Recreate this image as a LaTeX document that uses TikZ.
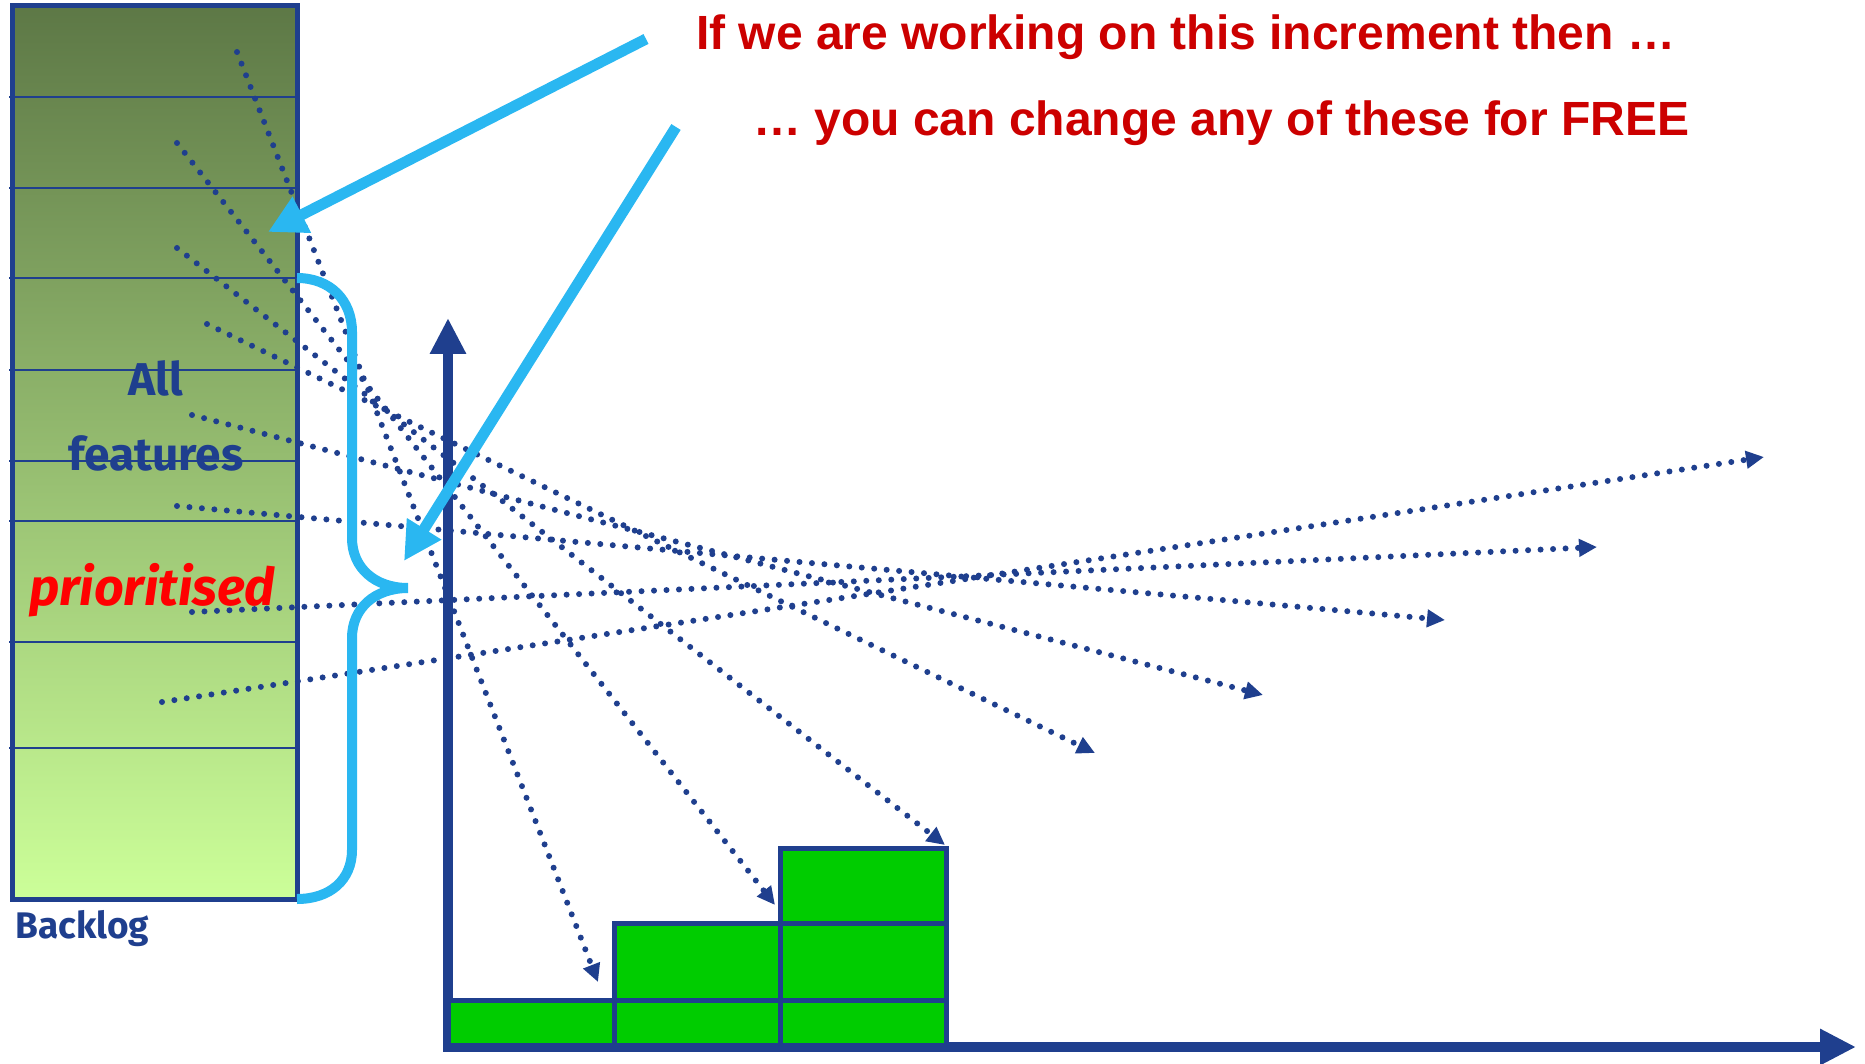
\documentclass[tikz,border=0pt]{standalone}
\usepackage{fontspec}
\setmainfont{Liberation Sans}
\newfontfamily\handfont{Fira Sans}
\usetikzlibrary{arrows.meta,positioning}

\begin{document}
\begin{tikzpicture}[x=1pt, y=-1pt]
    \definecolor{axisBlue}{HTML}{1F3F8E}
    \definecolor{braceCyan}{HTML}{2AB7F1}
    \definecolor{blockGreen}{HTML}{00CC00}
    \definecolor{topGreen}{HTML}{5D7846}
    \definecolor{bottomGreen}{HTML}{CCFF99}
    \definecolor{titleRed}{HTML}{CC0000}

    \tikzset{
        dotline/.style={axisBlue, line width=6pt, line cap=round, dash pattern=on 0pt off 12.5pt, -{Triangle[length=18pt,width=17pt]}},
        pointer/.style={braceCyan, line width=11pt, -{Triangle[length=38pt,width=38pt]}},
        block/.style={draw=axisBlue, fill=blockGreen, line width=5pt},
        axis/.style={axisBlue, line width=10pt, -{Triangle[length=36pt,width=34pt]}},
        hand/.style={font=\handfont\bfseries\fontsize{46}{46}\selectfont, text=axisBlue},
        title/.style={font=\bfseries\fontsize{48}{48}\selectfont, text=titleRed, anchor=west, inner sep=0pt}
    }

    \useasboundingbox (0,0) rectangle (1865,1064);

    % Backlog column
    \shade[top color=topGreen, bottom color=bottomGreen] (12,6) rectangle (297,899);
    \foreach \y in {97,188,278,370,461,521,642,748}
        \draw[axisBlue, line width=2.5pt] (9,\y) -- (297,\y);
    \draw[axisBlue, line width=5pt] (12,6) rectangle (297,899);

    % Labels in the column
    \node[hand] (all) at (156,378) {All};
    \node[hand] (feat) at (156,453) {features};
    \node[font=\handfont\bfseries\itshape\fontsize{52}{52}\selectfont, text=red] (prio) at (152,590) {prioritised};
    \node[hand, font=\handfont\bfseries\fontsize{37}{37}\selectfont, anchor=west, inner sep=0pt] (backlog) at (15,929) {Backlog};

    % Start and end points of the dotted arrows
    \coordinate (sA) at (237,52);   \coordinate (tA) at (598,982);
    \coordinate (sB) at (177,143);  \coordinate (tB) at (775,905);
    \coordinate (sC) at (177,248);  \coordinate (tC) at (945,845);
    \coordinate (sD) at (207,324);  \coordinate (tD) at (1095,753);
    \coordinate (sE) at (192,415);  \coordinate (tE) at (1263,695);
    \coordinate (sF) at (177,506);  \coordinate (tF) at (1445,620);
    \coordinate (sG) at (192,612);  \coordinate (tG) at (1597,547);
    \coordinate (sH) at (162,702);  \coordinate (tH) at (1764,457);

    % Axes
    \coordinate (origin) at (448,1047);
    \coordinate (yEnd) at (448,318);
    \coordinate (xEnd) at (1856,1047);
    \draw[axis] ([yshift=5pt]origin) -- (yEnd);
    \draw[axis] ([xshift=-5pt]origin) -- (xEnd);

    % Increments
    \draw[block] (448,1000) rectangle (614,1045);
    \draw[block] (614,1000) rectangle (780,1045);
    \draw[block] (780,1000) rectangle (946,1045);
    \draw[block] (614,923) rectangle (780,1000);
    \draw[block] (780,923) rectangle (946,1000);
    \draw[block] (780,848) rectangle (946,923);

    % Dotted arrows
    \foreach \s/\t in {sA/tA,sB/tB,sC/tC,sD/tD,sE/tE,sF/tF,sG/tG,sH/tH}
        \draw[dotline] (\s) -- (\t);

    % Brace
    \draw[braceCyan, line width=10pt] (297,278) .. controls (330,278) and (352,300) .. (352,332)
        -- (352,538) .. controls (352,568) and (375,588) .. (408,588)
        .. controls (375,588) and (352,608) .. (352,638)
        -- (352,850) .. controls (352,880) and (330,899) .. (297,899);
    \coordinate (braceTip) at (404,561);

    % Titles
    \node[title] (title1) at (696,37) {If we are working on this increment then …};
    \node[title] (title2) at (753,123) {… you can change any of these for FREE};

    % Pointers
    \coordinate (cur) at (268,232);
    \draw[pointer] (646,39) -- (cur);
    \draw[pointer] (676,127) -- (braceTip);
\end{tikzpicture}
\end{document}
